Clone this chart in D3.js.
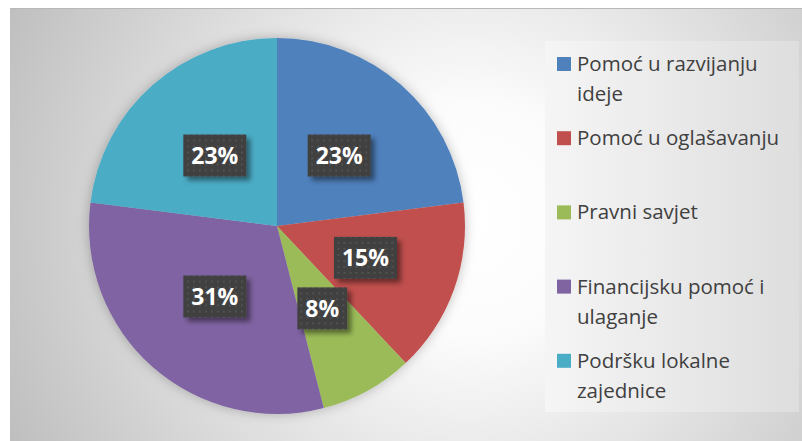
<!DOCTYPE html>
<html>
<head>
<meta charset="utf-8">
<script src="https://cdn.jsdelivr.net/npm/d3@7"></script>
<style>
    body { margin: 0; background: #fff; }
    svg { display: block; }
</style>
</head>
<body>
<div id="chart"></div>
<script>
// data
const categories = ["Pomoć u razvijanju ideje", "Pomoć u oglašavanju", "Pravni savjet", "Financijsku pomoć i ulaganje", "Podršku lokalne zajednice"];
const values = [23, 15, 8, 31, 23];
const sliceColors = ["#4F81BD", "#C0504D", "#9BBB59", "#8064A2", "#4BACC6"];

const width = 802, height = 441;

const svg = d3.select("#chart").append("svg")
    .attr("width", width)
    .attr("height", height);

const defs = svg.append("defs");

// background gradient
const bg = defs.append("radialGradient")
    .attr("id", "bg-grad")
    .attr("gradientUnits", "userSpaceOnUse")
    .attr("cx", 470).attr("cy", 220).attr("r", 520);
bg.append("stop").attr("offset", "0%").attr("stop-color", "#ffffff");
bg.append("stop").attr("offset", "22%").attr("stop-color", "#fcfcfc");
bg.append("stop").attr("offset", "100%").attr("stop-color", "#bdbdbd");

const legendGrad = defs.append("linearGradient")
    .attr("id", "legend-grad");
legendGrad.append("stop").attr("offset", "0%").attr("stop-color", "#f5f5f5");
legendGrad.append("stop").attr("offset", "100%").attr("stop-color", "#dedede");

// dotted label fill
const dots = defs.append("pattern")
    .attr("id", "dots")
    .attr("patternUnits", "userSpaceOnUse")
    .attr("width", 6).attr("height", 6);
dots.append("rect").attr("width", 6).attr("height", 6).attr("fill", "#404040");
dots.append("circle").attr("cx", 3).attr("cy", 3).attr("r", 1).attr("fill", "#575757");

const boxShadow = defs.append("filter").attr("id", "box-shadow")
    .attr("x", "-30%").attr("y", "-30%").attr("width", "160%").attr("height", "160%");
boxShadow.append("feDropShadow")
    .attr("dx", 4).attr("dy", 4).attr("stdDeviation", 2.5)
    .attr("flood-color", "#000").attr("flood-opacity", 0.45);

const pieShadow = defs.append("filter").attr("id", "pie-shadow")
    .attr("x", "-20%").attr("y", "-20%").attr("width", "140%").attr("height", "140%");
pieShadow.append("feDropShadow")
    .attr("dx", 0).attr("dy", 0).attr("stdDeviation", 6)
    .attr("flood-color", "#000").attr("flood-opacity", 0.25);

// chart area
svg.append("rect")
    .attr("x", 10).attr("y", 8)
    .attr("width", width - 10).attr("height", height - 8)
    .attr("fill", "url(#bg-grad)");
svg.append("line")
    .attr("x1", 10).attr("x2", width).attr("y1", 8.5).attr("y2", 8.5)
    .attr("stroke", "#b8b8b8");

// pie
const cx = 277, cy = 226, radius = 188;

const pie = d3.pie().sort(null).value(d => d);
const arc = d3.arc().innerRadius(0).outerRadius(radius);
const arcs = pie(values);

const pieGroup = svg.append("g")
    .attr("transform", `translate(${cx},${cy})`);

pieGroup.append("g")
    .attr("filter", "url(#pie-shadow)")
    .selectAll("path")
    .data(arcs)
    .enter()
    .append("path")
    .attr("d", arc)
    .attr("fill", (d, i) => sliceColors[i]);

// data labels
const labels = pieGroup.selectAll(".data-label")
    .data(arcs)
    .enter()
    .append("g")
    .attr("class", "data-label")
    .attr("transform", d => `translate(${arc.centroid(d)})`);

labels.each(function (d) {
    const g = d3.select(this);
    const rect = g.append("rect").attr("fill", "url(#dots)").attr("filter", "url(#box-shadow)");
    const t = g.append("text")
        .attr("text-anchor", "middle")
        .attr("dy", "0.36em")
        .attr("fill", "#fff")
        .style("font-family", "'Open Sans', sans-serif")
        .style("font-weight", "bold")
        .style("font-size", "23px")
        .text(d.data + "%");
    const w = t.node().getComputedTextLength() + 16;
    rect.attr("x", -w / 2).attr("y", -21).attr("width", w).attr("height", 42);
});

// legend
svg.append("rect")
    .attr("x", 545).attr("y", 41)
    .attr("width", 254).attr("height", 371)
    .attr("fill", "url(#legend-grad)");

const legendX = 557, legendTop = 71, legendStep = 74.2, lineHeight = 30, maxTextWidth = 215;

const legend = svg.append("g").attr("class", "legend");

categories.forEach((name, i) => {
    const y = legendTop + i * legendStep;
    const item = legend.append("g");

    item.append("rect")
        .attr("x", legendX).attr("y", y - 14)
        .attr("width", 14).attr("height", 14)
        .attr("fill", sliceColors[i]);

    const text = item.append("text")
        .attr("x", legendX + 20).attr("y", y)
        .attr("fill", "#404040")
        .style("font-family", "'Open Sans', sans-serif")
        .style("font-size", "20.5px");

    // simple word wrap
    const words = name.split(" ");
    let line = [];
    let tspan = text.append("tspan").attr("x", legendX + 20).attr("y", y);
    words.forEach(word => {
        line.push(word);
        tspan.text(line.join(" "));
        if (tspan.node().getComputedTextLength() > maxTextWidth && line.length > 1) {
            line.pop();
            tspan.text(line.join(" "));
            line = [word];
            tspan = text.append("tspan")
                .attr("x", legendX + 20)
                .attr("dy", lineHeight)
                .text(word);
        }
    });
});
</script>
</body>
</html>
